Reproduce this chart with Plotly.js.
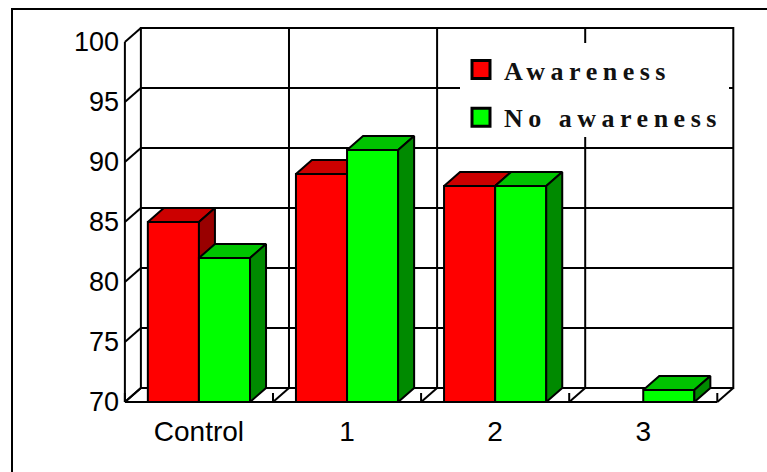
<!DOCTYPE html>
<html>
<head>
<meta charset="utf-8">
<script src="https://cdn.plot.ly/plotly-3.0.1.min.js"></script>
<style>
  html, body { margin: 0; padding: 0; background: #fff; }
  #chart { width: 767px; height: 472px; }
</style>
</head>
<body>
<div id="chart"></div>
<script>
// ---- data ----
const categories = ['Control', '1', '2', '3'];
const awareness = [85, 89, 88, null];
const noAwareness = [82, 91, 88, 71];
const valueTicks = [70, 75, 80, 85, 90, 95, 100];
const seriesNames = ['Awareness', 'No awareness'];

// ---- layout constants ----
const W = 767, H = 472;
const M = { l: 116, r: 26, t: 24, b: 67 };
const XR = [-0.56, 3.66];
const YR = [69.75, 101.5];
const plotW = W - M.l - M.r, plotH = H - M.t - M.b;
const pxPerX = plotW / (XR[1] - XR[0]);
const pxPerY = plotH / (YR[1] - YR[0]);
const DX = 16 / pxPerX;     // oblique depth, x
const DY = 14 / pxPerY;     // oblique depth, y
const FLOOR = valueTicks[0];
const TOP = valueTicks[valueTicks.length - 1];
const BAR_W = 0.345;
const xLo = -0.5, xHi = categories.length - 0.5;

const colors = {
  a: { front: '#ff0000', top: '#cc0000', side: '#990000' },
  b: { front: '#00ff00', top: '#00c400', side: '#008a00' }
};

// ---- frame (walls, grid, floor) ----
const fx = [], fy = [];
function seg(x0, y0, x1, y1) { fx.push(x0, x1, null); fy.push(y0, y1, null); }
// back wall outline
fx.push(xLo + DX, xHi + DX, xHi + DX, xLo + DX, xLo + DX, null);
fy.push(FLOOR + DY, FLOOR + DY, TOP + DY, TOP + DY, FLOOR + DY, null);
// back horizontal grid
valueTicks.slice(1, -1).forEach(v => seg(xLo + DX, v + DY, xHi + DX, v + DY));
// back vertical grid at category boundaries
for (let i = 1; i < categories.length; i++) seg(i - 0.5 + DX, FLOOR + DY, i - 0.5 + DX, TOP + DY);
// left wall: front axis line + diagonals at ticks
seg(xLo, FLOOR, xLo, TOP);
valueTicks.forEach(v => seg(xLo, v, xLo + DX, v + DY));
// floor: front baseline, diagonals and ticks at boundaries
seg(xLo, FLOOR, xHi, FLOOR);
for (let i = 0; i <= categories.length; i++) {
  const b = i - 0.5;
  seg(b, FLOOR, b + DX, FLOOR + DY);
  seg(b, FLOOR, b, FLOOR + 0.75);
}

const frameTrace = {
  type: 'scatter', mode: 'lines', x: fx, y: fy,
  line: { color: '#000', width: 2 }, hoverinfo: 'skip', showlegend: false,
  xaxis: 'x', yaxis: 'y'
};

// ---- bars ----
function faces(values, off) {
  const tx = [], ty = [], sx = [], sy = [];
  values.forEach((v, i) => {
    if (v === null) return;
    const xl = i + off, xr = xl + BAR_W;
    tx.push(xl, xr, xr + DX, xl + DX, xl, null);
    ty.push(v, v, v + DY, v + DY, v, null);
    sx.push(xr, xr, xr + DX, xr + DX, xr, null);
    sy.push(FLOOR, v, v + DY, FLOOR + DY, FLOOR, null);
  });
  return { tx, ty, sx, sy };
}

function seriesTraces(values, name, c, off, ax, grp) {
  const f = faces(values, off);
  const xa = 'x' + ax, ya = 'y' + ax;
  return [
    {
      type: 'bar', name: name, legendgroup: grp,
      x: categories.map((_, i) => i),
      y: values.map(v => v === null ? null : v - FLOOR),
      base: FLOOR, width: BAR_W, offset: off,
      marker: { color: c.front, line: { color: '#000', width: 2 } },
      xaxis: xa, yaxis: ya, hoverinfo: 'skip'
    },
    {
      type: 'scatter', mode: 'lines', fill: 'toself', fillcolor: c.top,
      x: f.tx, y: f.ty, line: { color: '#000', width: 2 },
      showlegend: false, hoverinfo: 'skip', xaxis: xa, yaxis: ya
    },
    {
      type: 'scatter', mode: 'lines', fill: 'toself', fillcolor: c.side,
      x: f.sx, y: f.sy, line: { color: '#000', width: 2 },
      showlegend: false, hoverinfo: 'skip', xaxis: xa, yaxis: ya
    }
  ];
}

const data = [frameTrace]
  .concat(seriesTraces(awareness, seriesNames[0], colors.a, -BAR_W, '2', 'a'))
  .concat(seriesTraces(noAwareness, seriesNames[1], colors.b, 0, '3', 'b'));

// pixel -> paper helpers
const px2paperX = px => (px - M.l) / plotW;
const px2paperY = py => (H - M.b - py) / plotH;

const hidden = (anchor) => ({
  range: XR, visible: false, overlaying: 'x', anchor: anchor, fixedrange: true
});

const layout = {
  width: W, height: H,
  margin: M,
  paper_bgcolor: '#fff', plot_bgcolor: 'rgba(0,0,0,0)',
  barmode: 'overlay',
  showlegend: true,
  font: { family: 'Liberation Sans, Arial, sans-serif', color: '#000' },
  xaxis: {
    range: XR, tickvals: categories.map((_, i) => i), ticktext: categories,
    showgrid: false, zeroline: false, showline: false, ticks: '',
    tickfont: { size: 28, color: '#000', family: 'Liberation Sans, Arial, sans-serif' },
    ticklabelstandoff: 7, fixedrange: true
  },
  yaxis: {
    range: YR, tickvals: valueTicks, ticktext: valueTicks.map(String),
    showgrid: false, zeroline: false, showline: false, ticks: '',
    tickfont: { size: 27, color: '#000', family: 'Liberation Sans, Arial, sans-serif' },
    ticklabelstandoff: -4, fixedrange: true
  },
  xaxis2: hidden('y2'),
  yaxis2: { range: YR, visible: false, overlaying: 'y', anchor: 'x2', fixedrange: true },
  xaxis3: hidden('y3'),
  yaxis3: { range: YR, visible: false, overlaying: 'y', anchor: 'x3', fixedrange: true },
  legend: {
    x: px2paperX(458), y: px2paperY(46), xanchor: 'left', yanchor: 'top',
    bgcolor: 'rgba(0,0,0,0)', borderwidth: 0,
    font: { family: 'Liberation Serif, Times New Roman, serif', size: 26, weight: 'bold', color: '#111' },
    itemwidth: 36, tracegroupgap: 11, traceorder: 'grouped'
  },
  shapes: [
    // outer frame (left and top edges visible)
    { type: 'rect', xref: 'paper', yref: 'paper',
      x0: px2paperX(12), x1: px2paperX(W + 20), y0: px2paperY(H + 20), y1: px2paperY(9),
      line: { color: '#000', width: 2 }, fillcolor: 'rgba(0,0,0,0)', layer: 'above' },
    // legend backing box
    { type: 'rect', xref: 'paper', yref: 'paper',
      x0: px2paperX(460), x1: px2paperX(729), y0: px2paperY(137), y1: px2paperY(43),
      line: { width: 0 }, fillcolor: '#fff', layer: 'above' }
  ]
};

Plotly.newPlot('chart', data, layout, { displayModeBar: false, staticPlot: true }).then(gd => {
  gd.querySelectorAll('.legend [clip-path]').forEach(e => e.removeAttribute('clip-path'));
  gd.querySelectorAll('.legendtext').forEach(t => { t.style.letterSpacing = '5.5px'; });
  gd.querySelectorAll('.legendpoints path').forEach(p => {
    const tr = p.getAttribute('transform') || '';
    p.setAttribute('transform', tr + ' scale(1.5)');
  });
});
</script>
</body>
</html>
